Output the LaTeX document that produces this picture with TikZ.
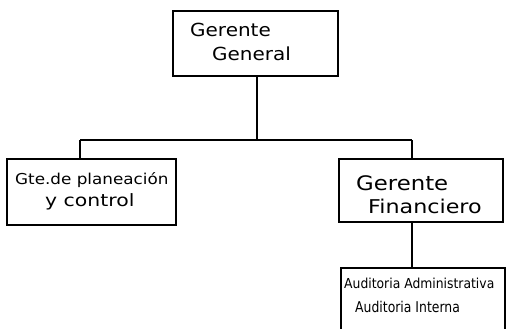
\documentclass[tikz,border=0pt]{standalone}
\usepackage{fontspec}
\setmainfont{DejaVu Sans}
\begin{document}
\begin{tikzpicture}[x=1pt,y=-1pt,
  box/.style={draw=black,line width=1.2pt,rectangle,inner sep=0pt,outer sep=0pt},
  conn/.style={draw=black,line width=1.2pt},
  hw/.style={anchor=base west,inner sep=0pt,text=black}]
\useasboundingbox (0,0) rectangle (506,329);
\clip (0,0) rectangle (506,329);
% boxes
\node[box,minimum width=165pt,minimum height=65pt] (gg) at (255.5,43.5) {};
\node[box,minimum width=169pt,minimum height=66pt] (gp) at (91.5,192) {};
\node[box,minimum width=164pt,minimum height=63pt] (gf) at (421,190.5) {};
\node[box,minimum width=164pt,minimum height=72pt] (au) at (423,304) {};
% texts
\node[hw,font=\fontsize{18}{18}\selectfont] (t1) at (190,37) {\scalebox{1.11}[1]{Gerente}};
\node[hw,font=\fontsize{18}{18}\selectfont] (t2) at (212,61) {\scalebox{1.11}[1]{General}};
\node[hw,font=\fontsize{15}{15}\selectfont] (t3) at (15,184) {\scalebox{1.12}[1]{Gte.de planeación}};
\node[hw,font=\fontsize{17}{17}\selectfont] (t4) at (45,206) {\scalebox{1.2}[1]{y control}};
\node[hw,font=\fontsize{20}{20}\selectfont] (t5) at (356,190) {\scalebox{1.14}[1]{Gerente}};
\node[hw,font=\fontsize{19}{19}\selectfont] (t6) at (368,213) {\scalebox{1.17}[1]{Financiero}};
\node[hw,font=\fontsize{12.5}{12.5}\selectfont] (t7) at (344,288) {\scalebox{0.99}[1.1]{Auditoria Administrativa}};
\node[hw,font=\fontsize{13.5}{13.5}\selectfont] (t8) at (355,312) {\scalebox{0.92}[1.1]{Auditoria Interna}};
% connectors
\coordinate (bl) at (80,140);
\coordinate (bm) at (257,140);
\coordinate (br) at (412,140);
\draw[conn] (gg.south -| bm) -- (bm);
\draw[conn] (bl) -- (br);
\draw[conn] (bl) -- (bl |- gp.north);
\draw[conn] (br) -- (br |- gf.north);
\draw[conn] (br |- gf.south) -- (br |- au.north);
\end{tikzpicture}
\end{document}
